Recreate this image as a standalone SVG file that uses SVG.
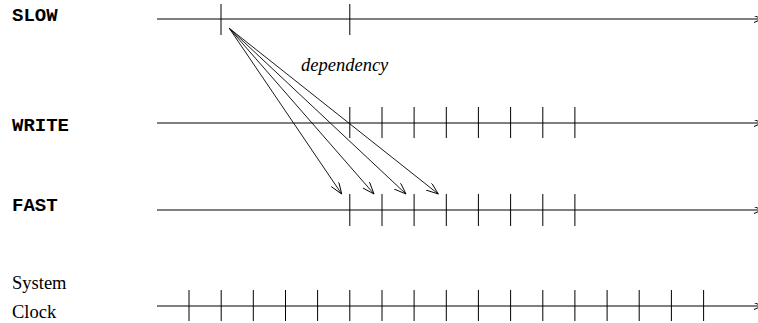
<svg xmlns="http://www.w3.org/2000/svg" width="758" height="323" viewBox="0 0 758 323">
<style>
.axis{stroke:#000;stroke-width:1;fill:none}
.tick{stroke:#000;stroke-width:1;fill:none}
.mono{font-family:"Liberation Mono","Courier New",monospace;font-weight:bold;font-size:19px;fill:#000}
.serif{font-family:"Liberation Serif","Times New Roman",serif;font-size:18.5px;fill:#000}
.dep{stroke:#000;stroke-width:0.9;fill:none}
</style>
<defs>
<marker id="endcap" markerUnits="userSpaceOnUse" markerWidth="12" markerHeight="10" refX="8" refY="3.5" orient="auto">
<path d="M0,0 L8,3.5 L0,7" fill="none" stroke="#000" stroke-width="1"/>
</marker>
<marker id="open" markerUnits="userSpaceOnUse" markerWidth="14" markerHeight="12" refX="12" refY="4.5" orient="auto">
<path d="M0,0 L12,4.5 L0,9" fill="none" stroke="#000" stroke-width="0.9"/>
</marker>
</defs>
<g id="slow">
<text class="mono" x="12" y="21">SLOW</text>
<line class="axis" x1="157" y1="19" x2="762" y2="19" marker-end="url(#endcap)"/>
<path class="tick" d="M221,4V35 M349.8,4V35"/>
</g>
<g id="write">
<text class="mono" x="12" y="130.5">WRITE</text>
<line class="axis" x1="157" y1="123" x2="762" y2="123" marker-end="url(#endcap)"/>
<path class="tick" d="M349.8,107V138 M382,107V138 M414.1,107V138 M446.3,107V138 M478.4,107V138 M510.6,107V138 M542.8,107V138 M574.9,107V138"/>
</g>
<g id="fast">
<text class="mono" x="12" y="210.5">FAST</text>
<line class="axis" x1="157" y1="210" x2="762" y2="210" marker-end="url(#endcap)"/>
<path class="tick" d="M349.8,194V226 M382,194V226 M414.1,194V226 M446.3,194V226 M478.4,194V226 M510.6,194V226 M542.8,194V226 M574.9,194V226"/>
</g>
<g id="clock">
<text class="serif" x="12" y="289" font-size="19">System</text>
<text class="serif" x="12" y="318" font-size="19">Clock</text>
<line class="axis" x1="157" y1="306" x2="762" y2="306" marker-end="url(#endcap)"/>
<path class="tick" d="M189,290V321 M221.2,290V321 M253.3,290V321 M285.5,290V321 M317.6,290V321 M349.8,290V321 M382,290V321 M414.1,290V321 M446.3,290V321 M478.4,290V321 M510.6,290V321 M542.8,290V321 M574.9,290V321 M607.1,290V321 M639.2,290V321 M671.4,290V321 M703.6,290V321"/>
</g>
<g id="connectors">
<line class="dep" x1="229.3" y1="28.3" x2="341.7" y2="194" marker-end="url(#open)"/>
<line class="dep" x1="229.3" y1="28.3" x2="374" y2="194" marker-end="url(#open)"/>
<line class="dep" x1="229.3" y1="28.3" x2="406" y2="194" marker-end="url(#open)"/>
<line class="dep" x1="229.3" y1="28.3" x2="438.3" y2="194" marker-end="url(#open)"/>
<text class="serif" x="301" y="71" font-style="italic">dependency</text>
</g>
</svg>
